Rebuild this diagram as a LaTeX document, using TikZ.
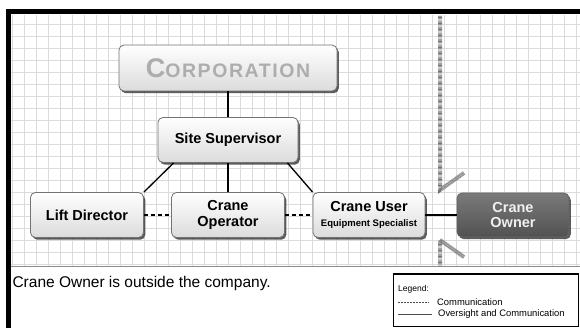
\documentclass[tikz,border=0pt]{standalone}
\usepackage{fontspec}
\setmainfont{Liberation Sans}
\usetikzlibrary{shadows}

\begin{document}
\begin{tikzpicture}[x=1pt,y=-1pt,
  box/.style={rectangle,rounded corners=5pt,draw=black!55,line width=0.8pt,
    top color=white,bottom color=black!14,inner sep=0pt,align=center,
    drop shadow={shadow xshift=1.8pt,shadow yshift=-2.2pt,fill=black!75,opacity=0.85},
    font=\bfseries\fontsize{14.5}{15.5}\selectfont},
  ownerbox/.style={box,draw=black!60,top color=black!52,bottom color=black!68,text=black!6},
  link/.style={draw,line width=1.3pt},
  comm/.style={draw,line width=1.3pt,dash pattern=on 4pt off 3pt},
  hatch/.style={draw=black!55,line width=4pt,dash pattern=on 0.6pt off 0.6pt},
  gridline/.style={draw=black!14,line width=0.5pt}
]
\useasboundingbox (0,0) rectangle (580,328);

% background grid and frame
\fill[white] (0,0) rectangle (580,328);
\draw[gridline] (11,15) grid[xstep=12pt,ystep=12pt] (580,267);
\draw[black!45,line width=1pt] (11,267) -- (580,267);
\draw[line width=5pt] (8,328) -- (8,12) -- (580,12);

% company boundary
\draw[hatch] (440,16) -- (440,190) -- (464,173);
\draw[hatch] (464,257) -- (440,240) -- (440,266);

% boxes
\node[box,minimum width=218pt,minimum height=46pt] (corp) at (228,68)
  {\textcolor{black!32}{\fontsize{27}{27}\selectfont C\fontsize{19.5}{19.5}\selectfont\addfontfeature{LetterSpace=8}ORPORATION}};
\node[box,minimum width=140pt,minimum height=45pt] (super) at (228,140) {Site Supervisor};
\node[box,minimum width=113pt,minimum height=45pt] (lift) at (87,215) {Lift Director};
\node[box,minimum width=113pt,minimum height=45pt] (oper) at (228,215) {Crane\\Operator};
\node[box,minimum width=112pt,minimum height=45pt] (user) at (369,215)
  {Crane User\\[-1pt]{\fontsize{9.5}{10}\selectfont Equipment Specialist}};
\node[ownerbox,minimum width=112pt,minimum height=44pt] (owner) at (513,215) {Crane\\Owner};

% connectors
\draw[link] (corp) -- (super);
\draw[link] (super.south) -- (oper.north);
\draw[link] (super.south west) ++(16pt,0) -- (lift.north east);
\draw[link] (super.south east) ++(-11pt,0) -- (user.north west);
\draw[comm] (lift) -- (oper);
\draw[comm] (oper) -- (user);
\draw[link] (user) -- (owner);

% note
\node[anchor=west,font=\fontsize{15.5}{16}\selectfont] (note) at (9,283) {Crane Owner is outside the company.};

% legend
\draw[line width=1pt] (393,274) rectangle (578,326);
\node[anchor=west,font=\fontsize{8.5}{9}\selectfont,inner sep=0pt] (legend) at (398,289) {Legend:};
\coordinate (d1) at (398,302);
\coordinate (d2) at (429,302);
\coordinate (s1) at (398,314);
\coordinate (s2) at (432,314);
\draw[black!70,line width=0.6pt,dash pattern=on 1.6pt off 1.4pt] (d1) -- (d2);
\draw[black!70,line width=0.8pt] (s1) -- (s2);
\node[anchor=west,font=\fontsize{9.4}{9.4}\selectfont,inner sep=0pt] (commtext) at (437,302) {Communication};
\node[anchor=west,font=\fontsize{9.4}{9.4}\selectfont,inner sep=0pt] (overtext) at (438,314) {Oversight and Communication};

\end{tikzpicture}
\end{document}
